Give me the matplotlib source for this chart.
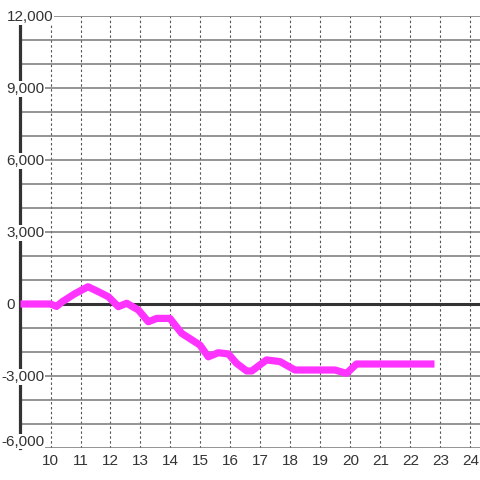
import matplotlib
matplotlib.use("Agg")
import matplotlib.pyplot as plt
import matplotlib.transforms as mtransforms

plt.rcParams["font.family"] = ["Liberation Sans", "DejaVu Sans"]

# values
x_vals = [9.0, 10.0, 10.2, 10.4, 10.8, 11.25, 11.6, 11.93, 12.26, 12.54, 12.93,
          13.26, 13.54, 13.98, 14.37, 14.98, 15.26, 15.59, 15.93, 16.2, 16.54,
          16.71, 17.2, 17.65, 18.15, 19.48, 19.87, 20.2, 22.8]
y_vals = [0, 0, -100, 100, 420, 720, 510, 300, -110, 30, -250,
          -740, -600, -600, -1220, -1710, -2200, -2030, -2080, -2470, -2790,
          -2790, -2330, -2400, -2750, -2750, -2890, -2500, -2500]

x_ticks = list(range(10, 25))
y_minor = list(range(-6000, 12001, 1000))
y_labels = [-6000, -3000, 0, 3000, 6000, 9000, 12000]

text_color = "#333333"

fig = plt.figure(figsize=(4.8, 4.8), dpi=100)
ax = fig.add_axes([20 / 480, 32 / 480, 460 / 480, 432 / 480])

ax.set_xlim(10 - 30.5 / 30, 10 - 30.5 / 30 + 460 / 30)
ax.set_ylim(-6000, 12000)

# grid
ax.set_xticks(x_ticks)
ax.set_yticks(y_minor)
ax.set_yticklabels([])
ax.xaxis.grid(True, color="#555555", linestyle=(0, (2.2, 2.2)), linewidth=0.8)
ax.yaxis.grid(True, color="#777777", linestyle="-", linewidth=1.1)
ax.set_axisbelow(True)
ax.tick_params(axis="both", length=0)
ax.tick_params(axis="x", pad=4.0, labelsize=11, labelcolor=text_color)

for side in ["top", "right", "bottom"]:
    ax.spines[side].set_visible(False)
ax.spines["left"].set_color("#333333")
ax.spines["left"].set_linewidth(2.3)
ax.spines["left"].set_zorder(2.6)

ax.axhline(0, color="#333333", linewidth=2.2, zorder=2)

ax.plot(x_vals, y_vals, color="#ff33ff", linewidth=5.2, solid_capstyle="butt",
        solid_joinstyle="round", zorder=3)

# y labels with white boxes over the axis line
trans = ax.get_yaxis_transform()
for v in y_labels:
    lbl = f"{v:,}"
    xpos = (6.5 - 20) / 460 if v >= 0 else (1 - 20) / 460
    t = trans + mtransforms.ScaledTranslation(0, -0.8 / 100, fig.dpi_scale_trans)
    if v == y_labels[0]:
        t = trans + mtransforms.ScaledTranslation(0, 6.5 / 100, fig.dpi_scale_trans)
    ax.text(xpos, v, lbl, transform=t, ha="left", va="center", fontsize=11,
            color=text_color, clip_on=False, zorder=5,
            bbox=dict(boxstyle="square,pad=0.05", facecolor="white", edgecolor="none"))

fig.savefig("out.png", dpi=100, facecolor="white")
